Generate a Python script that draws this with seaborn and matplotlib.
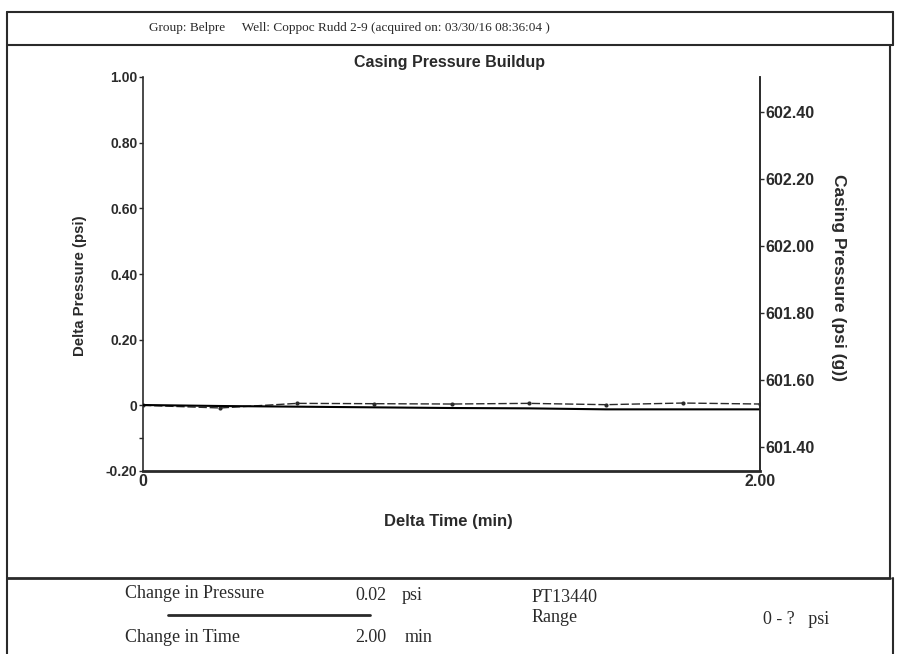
import numpy as np
import pandas as pd
import matplotlib
matplotlib.use("Agg")
import matplotlib.pyplot as plt
from matplotlib.lines import Line2D
import seaborn as sns

# values
delta_time = [0.0, 0.25, 0.5, 0.75, 1.0, 1.25, 1.5, 1.75, 2.0]
delta_pressure = [0.0, -0.008, 0.006, 0.005, 0.004, 0.006, 0.002, 0.007, 0.004]
casing_pressure = [601.525, 601.522, 601.520, 601.518, 601.516, 601.515, 601.512, 601.512, 601.512]

left_ticks = [-0.2, 0.0, 0.2, 0.4, 0.6, 0.8, 1.0]
left_labels = ["-0.20", "0", "0.20", "0.40", "0.60", "0.80", "1.00"]
right_ticks = [601.40, 601.60, 601.80, 602.00, 602.20, 602.40]
x_ticks = [0.0, 2.0]
x_labels = ["0", "2.00"]

header = "Group: Belpre     Well: Coppoc Rudd 2-9 (acquired on: 03/30/16 08:36:04 )"

df = pd.DataFrame({"t": delta_time, "dp": delta_pressure, "cp": casing_pressure})

sns.set_style("white")
plt.rcParams["font.family"] = ["Liberation Sans", "DejaVu Sans"]
ink = "#2a2a2a"
W, H = 898, 654
fig = plt.figure(figsize=(W / 100, H / 100), dpi=100)

ax = fig.add_axes([143 / W, 1 - 471 / H, (760 - 143) / W, (471 - 77) / H])
ax2 = ax.twinx()

sns.lineplot(data=df, x="t", y="dp", ax=ax, color=ink, lw=1.0, linestyle=(0, (6, 2)),
             marker="o", markersize=3, markeredgewidth=0)
sns.lineplot(data=df, x="t", y="cp", ax=ax2, color="black", lw=1.5)

ax.set_xlim(0, 2.0)
ax.set_ylim(-0.2, 1.0)
ax2.set_ylim(601.328, 602.504)

ax.set_yticks(left_ticks)
ax.set_yticklabels(left_labels)
ax.set_yticks([-0.1], minor=True)
ax.set_xticks(x_ticks)
ax.set_xticklabels(x_labels)
ax2.set_yticks(right_ticks)
ax2.set_yticklabels([f"{v:.2f}" for v in right_ticks])

for a in (ax, ax2):
    a.spines["top"].set_visible(False)
    for s in a.spines.values():
        s.set_color(ink)
        s.set_linewidth(1.2)
    a.tick_params(colors=ink, length=3, width=1, pad=1)
    for lab in a.get_yticklabels() + a.get_xticklabels():
        lab.set_fontweight("bold")
ax.tick_params(axis="y", labelsize=10)
ax.tick_params(axis="x", labelsize=11.5, length=0, pad=2)
ax2.tick_params(axis="y", labelsize=11.5)
ax.spines["bottom"].set_linewidth(2.0)
ax.tick_params(axis="y", which="minor", length=3, width=1, colors=ink, left=True)
ax2.spines["left"].set_visible(False)
ax2.spines["bottom"].set_visible(False)

ax.set_xlabel("Delta Time (min)", fontsize=12, fontweight="bold", color=ink)
ax.set_ylabel("Delta Pressure (psi)", fontsize=10.8, fontweight="bold", color=ink)
ax2.set_ylabel("Casing Pressure (psi (g))", fontsize=12.5, fontweight="bold", color=ink,
               rotation=270)
ax.yaxis.set_label_coords(-0.09, 0.47)
ax2.yaxis.set_label_coords(1.14, 0.49)
ax.xaxis.set_label_coords(0.495, -0.11)

fig.text(450 / W, 1 - 62 / H, "Casing Pressure Buildup", ha="center", va="center",
         fontsize=11.5, fontweight="bold", color=ink)

# frame lines of the report page
def hline(x0, x1, y, lw=1.5):
    fig.add_artist(Line2D([x0 / W, x1 / W], [1 - y / H, 1 - y / H], color=ink, lw=lw))

def vline(x, y0, y1, lw=1.5):
    fig.add_artist(Line2D([x / W, x / W], [1 - y0 / H, 1 - y1 / H], color=ink, lw=lw))

hline(7, 893, 12)
hline(7, 893, 45)
hline(7, 890, 578, lw=2)
vline(7, 12, 654)
vline(893, 12, 45)
vline(890, 45, 578)
vline(893, 578, 654)

serif = ["Liberation Serif", "DejaVu Serif"]
fig.text(349 / W, 1 - 28 / H, header, ha="center", va="center", fontsize=9.5,
         family=serif, color=ink)

fs = 13
fig.text(125 / W, 1 - 593 / H, "Change in Pressure", ha="left", va="center", fontsize=fs,
         family=serif, color=ink)
fig.text(355 / W, 1 - 595 / H, "0.02", ha="left", va="center", fontsize=fs, family=serif, color=ink)
fig.text(402 / W, 1 - 595 / H, "psi", ha="left", va="center", fontsize=fs, family=serif, color=ink)
hline(168, 370, 615, lw=2)
fig.text(125 / W, 1 - 637 / H, "Change in Time", ha="left", va="center", fontsize=fs,
         family=serif, color=ink)
fig.text(355 / W, 1 - 638 / H, "2.00", ha="left", va="center", fontsize=fs, family=serif, color=ink)
fig.text(405 / W, 1 - 638 / H, "min", ha="left", va="center", fontsize=fs, family=serif, color=ink)
fig.text(532 / W, 1 - 597 / H, "PT13440", ha="left", va="center", fontsize=fs, family=serif, color=ink)
fig.text(532 / W, 1 - 618 / H, "Range", ha="left", va="center", fontsize=fs, family=serif, color=ink)
fig.text(763 / W, 1 - 620 / H, "0 - ?   psi", ha="left", va="center", fontsize=fs,
         family=serif, color=ink)

fig.savefig("out.png", dpi=100)
